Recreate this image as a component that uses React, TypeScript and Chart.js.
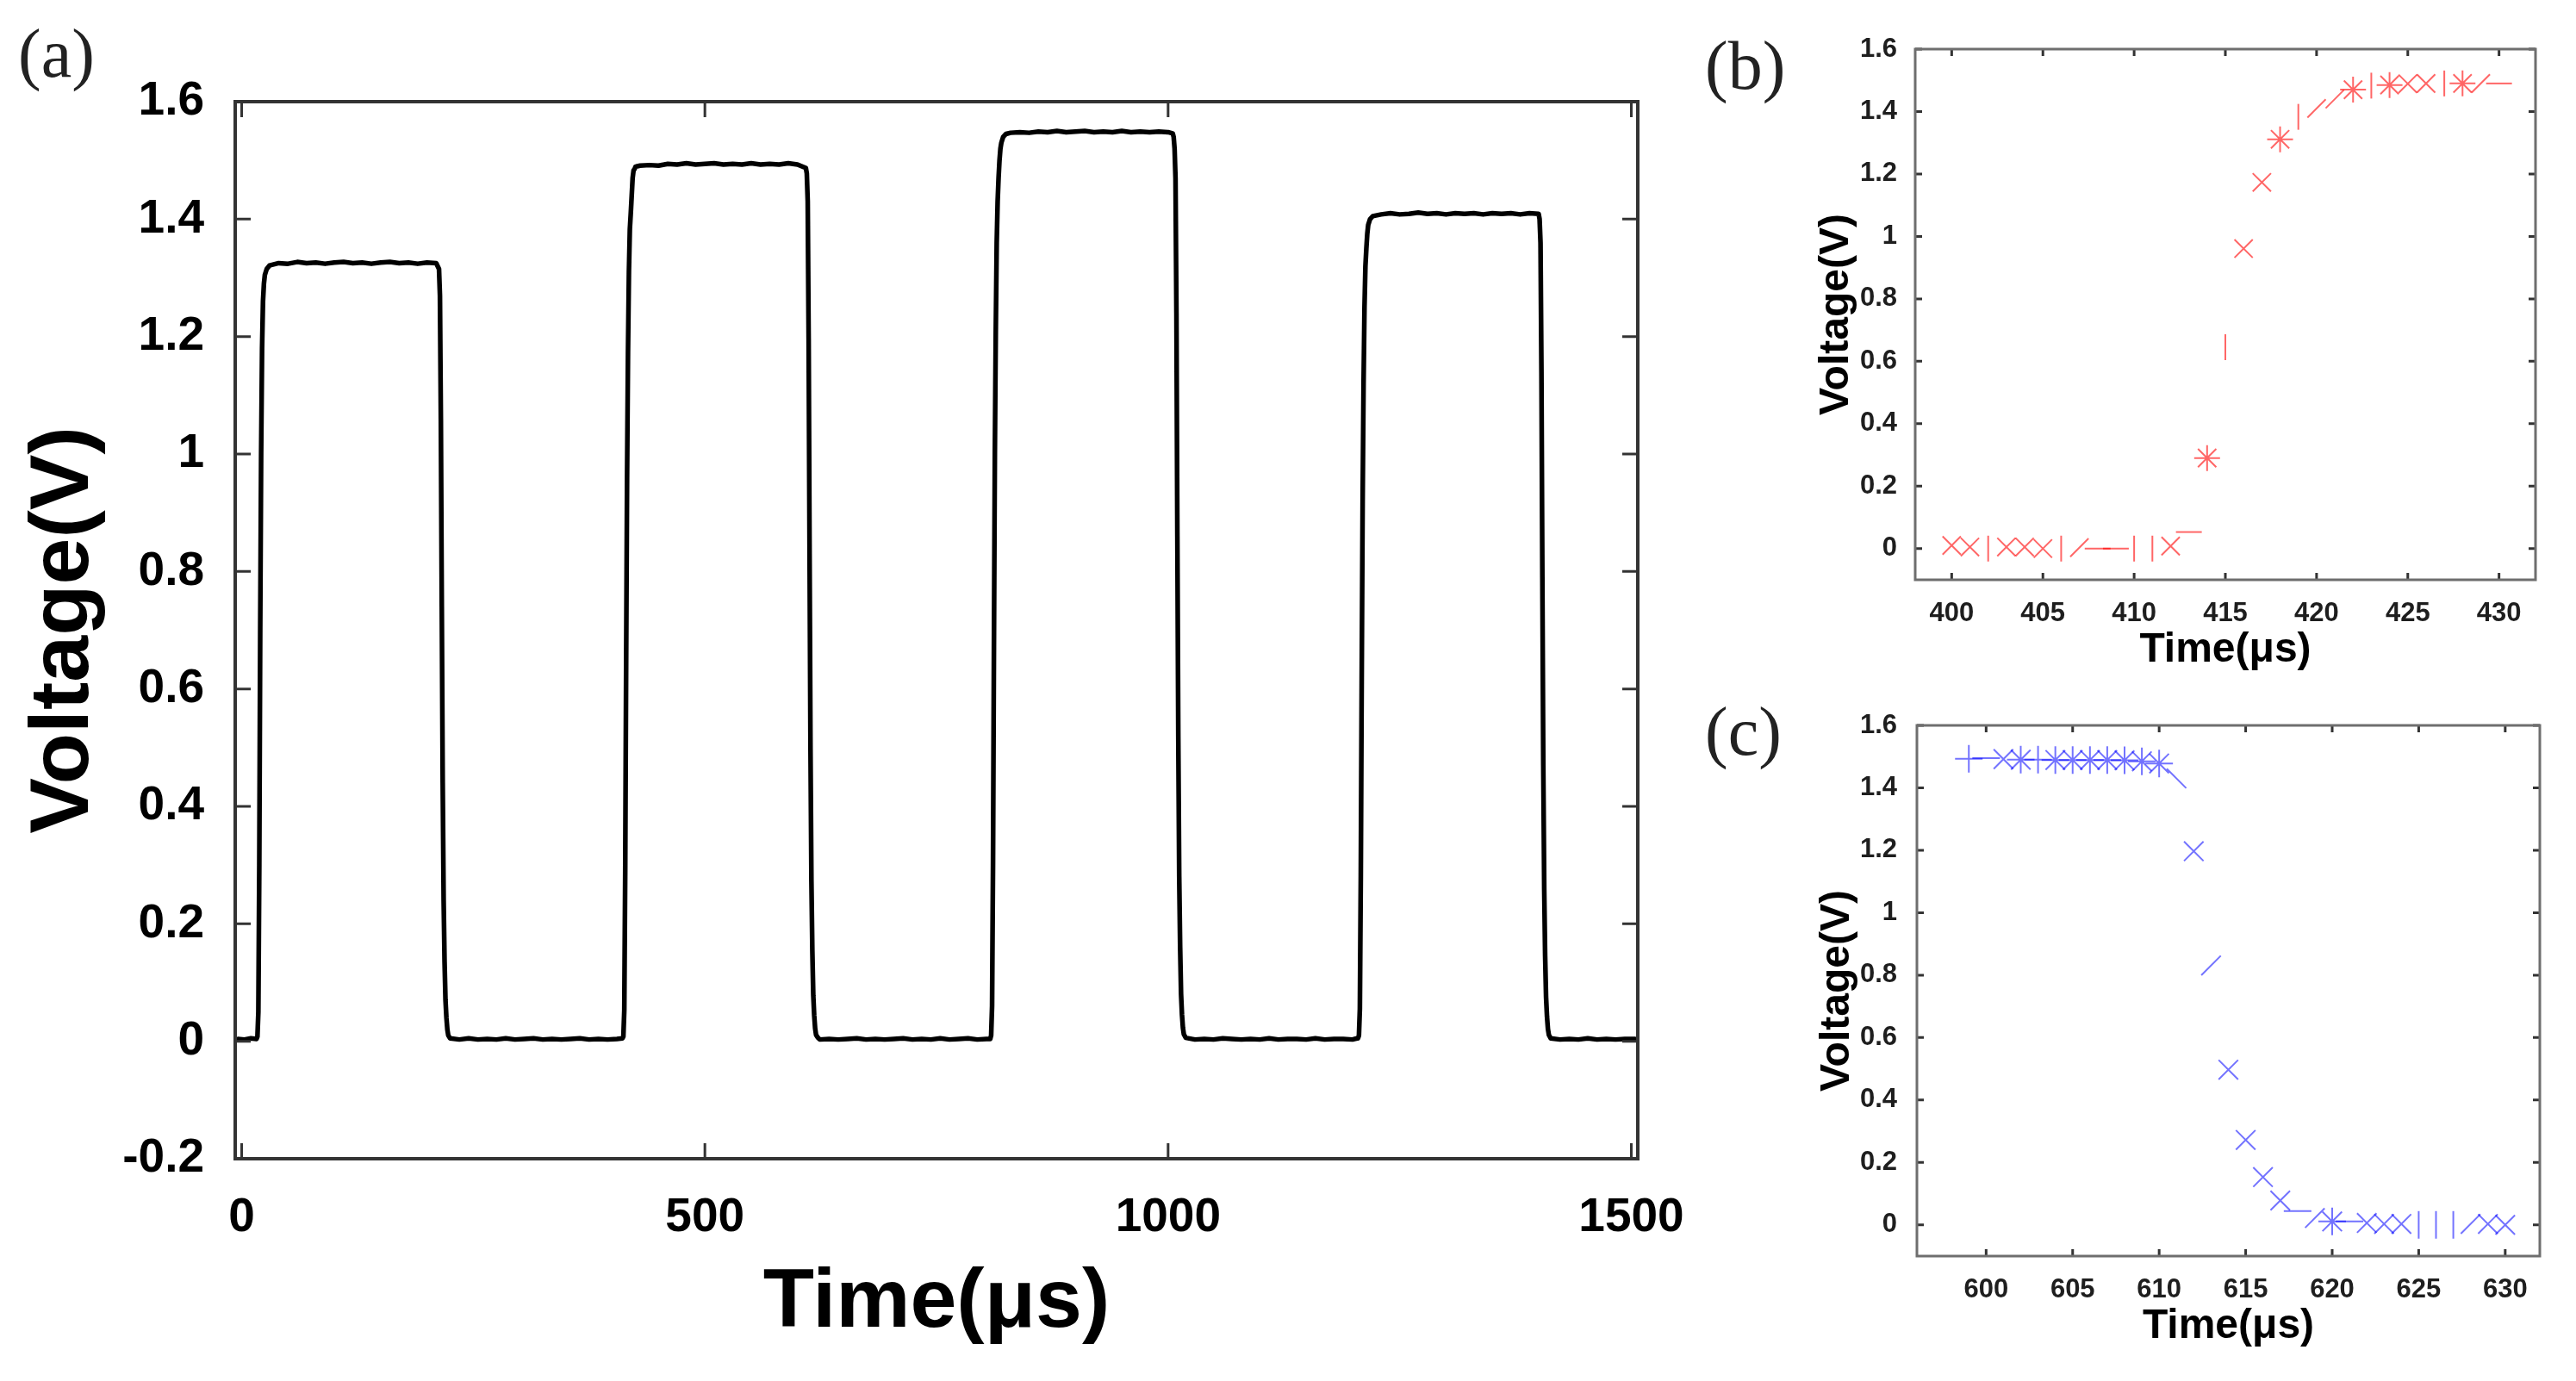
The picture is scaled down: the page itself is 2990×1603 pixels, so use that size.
import React, { useEffect, useRef } from 'react';
import { Chart, registerables } from 'chart.js';

Chart.register(...registerables);

// ---------------- DATA ----------------
// Panel (a): full oscilloscope trace, [time µs, voltage V]
const PULSE_1: [number, number][] = [
  [-4, 0.004], [3, 0.003], [10, 0.005], [16, 0.004], [17, 0.008], [18, 0.05], [19, 0.3], [20, 0.7],
  [21, 1.0], [22, 1.18], [23, 1.26], [24, 1.29], [25, 1.305], [27, 1.315], [30, 1.321], [40, 1.325],
  [50, 1.324], [60, 1.327], [70, 1.325], [80, 1.326], [90, 1.324], [100, 1.326], [110, 1.327],
  [120, 1.325], [130, 1.326], [140, 1.324], [150, 1.326], [160, 1.327], [170, 1.325], [180, 1.326],
  [190, 1.324], [200, 1.326], [210, 1.325], [213, 1.315], [214, 1.27], [215, 1.06], [216, 0.74],
  [217, 0.44], [218, 0.24], [219, 0.135], [220, 0.07], [221, 0.04], [222, 0.02], [223, 0.01],
  [225, 0.005], [235, 0.003], [245, 0.005], [255, 0.003], [265, 0.004], [275, 0.003], [285, 0.005],
  [295, 0.003], [305, 0.004], [315, 0.005], [325, 0.003], [335, 0.004], [345, 0.003], [355, 0.004],
  [365, 0.005], [375, 0.003], [385, 0.004], [395, 0.003], [405, 0.004], [411, 0.005],
];
const PULSE_2: [number, number][] = [
  [412, 0.008], [413, 0.053], [414, 0.29], [415, 0.645], [416, 0.961], [417, 1.173], [418, 1.311],
  [419, 1.383], [420, 1.41], [421, 1.44], [422, 1.47], [423, 1.483], [424, 1.485], [425, 1.489],
  [427, 1.49], [430, 1.491], [440, 1.492], [450, 1.491], [460, 1.494], [470, 1.493], [480, 1.495],
  [490, 1.493], [500, 1.494], [510, 1.495], [520, 1.493], [530, 1.494], [540, 1.493], [550, 1.495],
  [560, 1.493], [570, 1.494], [580, 1.493], [590, 1.495], [600, 1.493], [609, 1.487], [610, 1.478],
  [611, 1.43], [612, 1.197], [613, 0.831], [614, 0.497], [615, 0.272], [616, 0.153], [617, 0.078],
  [618, 0.044], [619, 0.022], [620, 0.011], [622, 0.006], [624, 0.003], [634, 0.004], [644, 0.003],
  [654, 0.004], [664, 0.005], [674, 0.003], [684, 0.004], [694, 0.003], [704, 0.004], [714, 0.005],
  [724, 0.003], [734, 0.004], [744, 0.003], [754, 0.005], [764, 0.003], [774, 0.004], [784, 0.005],
  [794, 0.003], [804, 0.004], [808, 0.004],
];
const PULSE_3: [number, number][] = [
  [809, 0.01], [810, 0.06], [811, 0.3], [812, 0.67], [813, 1.0], [814, 1.21], [815, 1.36], [816, 1.43],
  [817, 1.47], [818, 1.5], [819, 1.52], [820, 1.53], [822, 1.54], [825, 1.545], [830, 1.547],
  [840, 1.548], [850, 1.547], [860, 1.549], [870, 1.548], [880, 1.55], [890, 1.548], [900, 1.549],
  [910, 1.55], [920, 1.548], [930, 1.549], [940, 1.548], [950, 1.55], [960, 1.548], [970, 1.549],
  [980, 1.548], [990, 1.549], [1000, 1.548], [1005, 1.546], [1006, 1.54], [1007, 1.52], [1008, 1.47],
  [1009, 1.24], [1010, 0.86], [1011, 0.52], [1012, 0.28], [1013, 0.16], [1014, 0.08], [1015, 0.045],
  [1016, 0.023], [1017, 0.012], [1019, 0.006], [1029, 0.003], [1039, 0.004], [1049, 0.003],
  [1059, 0.005], [1069, 0.004], [1079, 0.003], [1089, 0.004], [1099, 0.003], [1109, 0.005],
  [1119, 0.003], [1129, 0.004], [1139, 0.004], [1149, 0.003], [1159, 0.005], [1169, 0.003],
  [1179, 0.004], [1189, 0.004], [1199, 0.003], [1204, 0.005],
];
const PULSE_4: [number, number][] = [
  [1205, 0.005], [1206, 0.01], [1207, 0.055], [1208, 0.28], [1209, 0.62], [1210, 0.92], [1211, 1.12],
  [1212, 1.25], [1213, 1.32], [1214, 1.35], [1215, 1.375], [1216, 1.39], [1218, 1.4], [1221, 1.405],
  [1230, 1.408], [1240, 1.41], [1250, 1.408], [1260, 1.409], [1270, 1.411], [1280, 1.409],
  [1290, 1.41], [1300, 1.408], [1310, 1.41], [1320, 1.409], [1330, 1.41], [1340, 1.408],
  [1350, 1.41], [1360, 1.409], [1370, 1.41], [1380, 1.408], [1390, 1.41], [1400, 1.409],
  [1401, 1.4], [1402, 1.36], [1403, 1.14], [1404, 0.79], [1405, 0.47], [1406, 0.26], [1407, 0.145],
  [1408, 0.075], [1409, 0.042], [1410, 0.021], [1411, 0.011], [1413, 0.005], [1423, 0.003],
  [1433, 0.004], [1443, 0.003], [1453, 0.005], [1463, 0.003], [1473, 0.004], [1483, 0.003],
  [1493, 0.004], [1504, 0.004],
];
const A_X_TICKS = [0, 500, 1000, 1500];
const A_Y_TICKS = [-0.2, 0, 0.2, 0.4, 0.6, 0.8, 1, 1.2, 1.4, 1.6];

// Panel (b): rising edge samples
const B_TIME = [400, 401, 402, 403, 404, 405, 406, 407, 408, 409, 410, 411, 412, 413, 414, 415,
  416, 417, 418, 419, 420, 421, 422, 423, 424, 425, 426, 427, 428, 429, 430];
const B_VOLT = [0.01, 0.005, 0.0, 0.005, 0.005, 0.0, 0.0, 0.003, 0.0, 0.0, 0.0, 0.0, 0.008, 0.053,
  0.29, 0.645, 0.961, 1.173, 1.311, 1.383, 1.41, 1.44, 1.47, 1.483, 1.485, 1.489, 1.49, 1.49, 1.49,
  1.49, 1.49];
const B_X_TICKS = [400, 405, 410, 415, 420, 425, 430];

// Panel (c): falling edge samples
const C_TIME = [599, 600, 601, 602, 603, 604, 605, 606, 607, 608, 609, 610, 611, 612, 613, 614, 615,
  616, 617, 618, 619, 620, 621, 622, 623, 624, 625, 626, 627, 628, 629, 630];
const C_VOLT = [1.493, 1.495, 1.492, 1.49, 1.49, 1.489, 1.489, 1.489, 1.489, 1.488, 1.485, 1.478,
  1.43, 1.197, 0.831, 0.497, 0.272, 0.153, 0.078, 0.044, 0.022, 0.011, 0.011, 0.006, 0.003, 0.003,
  0.0, 0.0, 0.0, 0.003, 0.003, 0.0];
const C_X_TICKS = [600, 605, 610, 615, 620, 625, 630];

const BC_Y_TICKS = [0, 0.2, 0.4, 0.6, 0.8, 1, 1.2, 1.4, 1.6];

// ---------------- STYLE ----------------
const SANS = "'Liberation Sans', Arial, Helvetica, sans-serif";
const SERIF = "'Liberation Serif', 'Times New Roman', serif";

// marker glyphs as they appear (low-res rendering of the original markers)
const B_GLYPHS = ['x', 'x', '|', 'x', 'x', 'x', '|', '/', '-', '-', '|', '|', 'x', '-', '*', '|', 'x',
  'x', '*', '|', '/', '/', '*', '|', '*', 'x', 'x', '|', '*', '/', '-'];
const C_GLYPHS = ['+', '-', 'x', '*', '+', '*', '*', '*', '*', '*', '*', '*', '\\', 'x', '/', 'x', 'x',
  'x', 'x', '-', '/', '*', '-', 'x', 'x', 'x', '|', '|', '|', '/', 'x', 'x'];
const GLYPH_STYLE: Record<string, [string, number]> = {
  x: ['crossRot', 0],
  '+': ['cross', 0],
  '*': ['star', 0],
  '|': ['line', 90],
  '-': ['line', 0],
  '/': ['line', -45],
  '\\': ['line', 45],
};

const boxTicks = {
  id: 'boxTicks',
  afterDatasetsDraw(chart: any, _args: any, opts: any) {
    const { ctx, chartArea } = chart;
    const { left, top, right, bottom } = chartArea;
    const xs = chart.scales.x;
    const ys = chart.scales.y;
    const L = opts.tickLength;
    ctx.save();
    ctx.strokeStyle = opts.tickColor;
    ctx.lineWidth = opts.tickWidth;
    ctx.beginPath();
    xs.ticks.forEach((t: any) => {
      const px = xs.getPixelForValue(t.value);
      ctx.moveTo(px, bottom);
      ctx.lineTo(px, bottom - L);
      ctx.moveTo(px, top);
      ctx.lineTo(px, top + L);
    });
    ys.ticks.forEach((t: any) => {
      const py = ys.getPixelForValue(t.value);
      ctx.moveTo(left, py);
      ctx.lineTo(left + L, py);
      ctx.moveTo(right, py);
      ctx.lineTo(right - L, py);
    });
    ctx.stroke();
    ctx.strokeStyle = opts.frameColor;
    ctx.lineWidth = opts.frameWidth;
    ctx.strokeRect(left, top, right - left, bottom - top);
    ctx.restore();
  },
};

interface AxisSpec {
  min: number;
  max: number;
  ticks: number[];
  size: number;
  tickFont: number;
  tickPad: number;
  tickColor: string;
  titleFont: number;
  titlePad: number;
}

function xAxis(s: AxisSpec) {
  return {
    type: 'linear',
    min: s.min,
    max: s.max,
    afterBuildTicks: (sc: any) => { sc.ticks = s.ticks.map((v) => ({ value: v })); },
    afterFit: (sc: any) => { sc.height = s.size; },
    grid: { display: false },
    border: { display: false },
    ticks: {
      font: { family: SANS, size: s.tickFont, weight: 'bold' },
      color: s.tickColor,
      padding: s.tickPad,
      maxRotation: 0,
      autoSkip: false,
      callback: (v: any) => String(v),
    },
    title: {
      display: true,
      text: 'Time(μs)',
      color: '#000',
      font: { family: SANS, size: s.titleFont, weight: 'bold' },
      padding: { top: 0, bottom: s.titlePad },
    },
  };
}

function yAxis(s: AxisSpec) {
  return {
    type: 'linear',
    min: s.min,
    max: s.max,
    afterBuildTicks: (sc: any) => { sc.ticks = s.ticks.map((v) => ({ value: v })); },
    afterFit: (sc: any) => { sc.width = s.size; },
    grid: { display: false },
    border: { display: false },
    ticks: {
      font: { family: SANS, size: s.tickFont, weight: 'bold' },
      color: s.tickColor,
      padding: s.tickPad,
      autoSkip: false,
      callback: (v: any) => String(v),
    },
    title: {
      display: true,
      text: 'Voltage(V)',
      color: '#000',
      font: { family: SANS, size: s.titleFont, weight: 'bold' },
      padding: { top: s.titlePad, bottom: 0 },
    },
  };
}

function configA() {
  const data = [...PULSE_1, ...PULSE_2, ...PULSE_3, ...PULSE_4].map(([x, y]) => ({ x, y }));
  return {
    type: 'line',
    data: {
      datasets: [{
        data,
        borderColor: '#000',
        borderWidth: 5.5,
        pointRadius: 0,
        tension: 0,
        fill: false,
        borderJoinStyle: 'round',
        borderCapStyle: 'round',
      }],
    },
    options: {
      responsive: false,
      animation: false,
      devicePixelRatio: 1,
      events: [],
      layout: { padding: { left: 0, top: 118, right: 89, bottom: 0 } },
      plugins: {
        legend: { display: false },
        tooltip: { enabled: false },
        boxTicks: { tickLength: 18, tickWidth: 3, tickColor: '#333', frameColor: '#333', frameWidth: 4 },
      },
      scales: {
        x: xAxis({ min: -7, max: 1507, ticks: A_X_TICKS, size: 258, tickFont: 55, tickPad: 28, tickColor: '#000', titleFont: 97, titlePad: 32 }),
        y: yAxis({ min: -0.2, max: 1.6, ticks: A_Y_TICKS, size: 273, tickFont: 55, tickPad: 28, tickColor: '#000', titleFont: 97, titlePad: 17 }),
      },
    },
    plugins: [boxTicks],
  };
}

function configZoom(times: number[], volts: number[], glyphs: string[], color: string, radius: number,
  xmin: number, xmax: number, xticks: number[], pad: any, ySize: number, xSize: number,
  yTickPad: number, xTitlePad: number, yTitlePad: number) {
  const data = times.map((t, i) => ({ x: t, y: volts[i] }));
  return {
    type: 'scatter',
    data: {
      datasets: [{
        data,
        showLine: false,
        pointStyle: glyphs.map((g) => GLYPH_STYLE[g][0]),
        pointRotation: glyphs.map((g) => GLYPH_STYLE[g][1]),
        pointRadius: radius,
        pointBorderWidth: 2,
        pointBorderColor: color,
        pointBackgroundColor: 'rgba(0,0,0,0)',
      }],
    },
    options: {
      responsive: false,
      animation: false,
      devicePixelRatio: 1,
      events: [],
      layout: { padding: pad },
      plugins: {
        legend: { display: false },
        tooltip: { enabled: false },
        boxTicks: { tickLength: 8, tickWidth: 3, tickColor: '#333', frameColor: '#6e6e6e', frameWidth: 3 },
      },
      scales: {
        x: xAxis({ min: xmin, max: xmax, ticks: xticks, size: xSize, tickFont: 31, tickPad: 13, tickColor: '#1e1e1e', titleFont: 48, titlePad: xTitlePad }),
        y: yAxis({ min: -0.1, max: 1.6, ticks: BC_Y_TICKS, size: ySize, tickFont: 31, tickPad: yTickPad, tickColor: '#1e1e1e', titleFont: 48, titlePad: yTitlePad }),
      },
    },
    plugins: [boxTicks],
  };
}

function ChartBox(props: { left: number; top: number; width: number; height: number; make: () => any }) {
  const ref = useRef<HTMLCanvasElement | null>(null);
  useEffect(() => {
    if (!ref.current) return;
    const chart = new Chart(ref.current, props.make());
    return () => chart.destroy();
  }, []);
  return (
    <canvas
      ref={ref}
      width={props.width}
      height={props.height}
      style={{ position: 'absolute', left: props.left, top: props.top, width: props.width, height: props.height }}
    />
  );
}

function PanelLabel(props: { text: string; left: number; top: number }) {
  return (
    <div
      style={{
        position: 'absolute',
        left: props.left,
        top: props.top,
        fontFamily: SERIF,
        fontSize: 80,
        lineHeight: '80px',
        color: '#222',
        whiteSpace: 'nowrap',
      }}
    >
      {props.text}
    </div>
  );
}

export default function App() {
  return (
    <div style={{ position: 'absolute', left: 0, top: 0, width: 2990, height: 1603, background: '#fff', overflow: 'hidden' }}>
      <ChartBox left={0} top={0} width={1990} height={1603} make={configA} />
      <ChartBox
        left={2080} top={0} width={910} height={800}
        make={() => configZoom(B_TIME, B_VOLT, B_GLYPHS, 'rgba(255,0,0,0.6)', 15, 398, 432, B_X_TICKS,
          { left: 0, top: 57, right: 47, bottom: 0 }, 143, 127, 13, 16, 23)}
      />
      <ChartBox
        left={2080} top={800} width={910} height={803}
        make={() => configZoom(C_TIME, C_VOLT, C_GLYPHS, 'rgba(0,0,255,0.55)', 16, 596, 632, C_X_TICKS,
          { left: 0, top: 42, right: 42, bottom: 0 }, 145, 145, 15, 34, 24)}
      />
      <PanelLabel text="(a)" left={21} top={22} />
      <PanelLabel text="(b)" left={1979} top={36} />
      <PanelLabel text="(c)" left={1979} top={809} />
    </div>
  );
}
